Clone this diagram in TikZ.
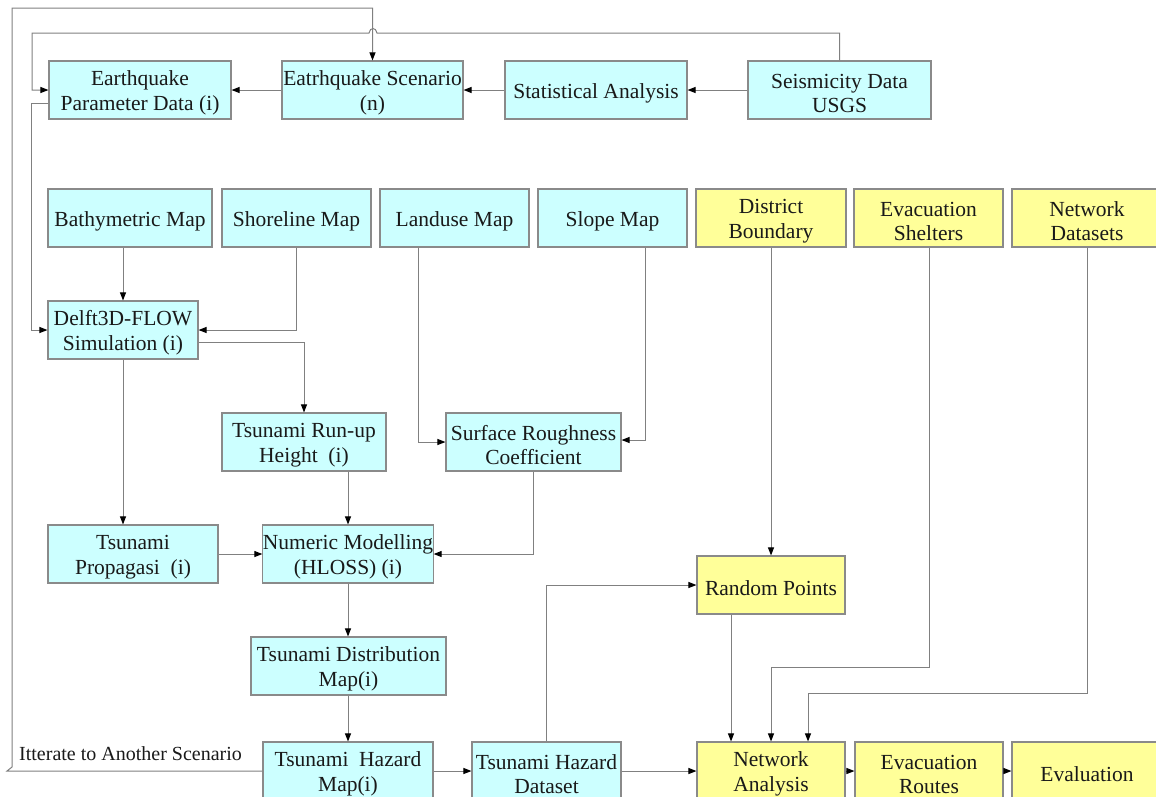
\documentclass[tikz,border=0pt]{standalone}
\usepackage{fontspec}
\setmainfont{Liberation Serif}
\usetikzlibrary{arrows.meta}
\definecolor{cyanfill}{HTML}{CCFFFF}
\definecolor{yelfill}{HTML}{FFFF99}
\definecolor{linegray}{HTML}{808080}
\definecolor{boxgray}{HTML}{8A8A8A}
\newcommand\tstrut{\rule{0pt}{21pt}}
\tikzset{
  box/.style={draw=boxgray, line width=1.1pt, fill=cyanfill, inner sep=0pt, align=center,
    minimum height=58pt, text=black!90, font=\fontsize{21.5}{24.5}\selectfont},
  ybox/.style={box, fill=yelfill},
  arr/.style={draw=linegray, line width=1pt, -{Triangle[length=8pt,width=6pt,color=black]}},
}
\begin{document}
\begin{tikzpicture}[x=1pt,y=-1pt]
\useasboundingbox (0,0) rectangle (1156,796);
% top row
\node[box, minimum width=182pt] (epd) at (140,90) {\tstrut Earthquake\\Parameter Data (i)};
\node[box, minimum width=181pt] (es) at (372.5,90) {\tstrut Eatrhquake Scenario\\(n)};
\node[box, minimum width=182pt] (sa) at (596,90) {\tstrut Statistical Analysis};
\node[box, minimum width=183pt] (sd) at (839.5,90) {\tstrut Seismicity Data\\USGS};
% second row
\node[box, minimum width=164pt] (bathy) at (130,218) {\tstrut Bathymetric Map};
\node[box, minimum width=149pt] (shore) at (296.5,218) {\tstrut Shoreline Map};
\node[box, minimum width=149pt] (landuse) at (454.5,218) {\tstrut Landuse Map};
\node[box, minimum width=149pt] (slope) at (612.5,218) {\tstrut Slope Map};
\node[ybox, minimum width=150pt] (district) at (771,218) {\tstrut District\\Boundary};
\node[ybox, minimum width=149pt] (shelters) at (928.5,218) {\tstrut Evacuation\\Shelters};
\node[ybox, minimum width=150pt] (netdata) at (1087,218) {\tstrut Network\\Datasets};
% middle
\node[box, minimum width=150pt] (delft) at (123,330) {\tstrut Delft3D-FLOW\\Simulation (i)};
\node[box, minimum width=164pt] (runup) at (304,442) {\tstrut Tsunami Run-up\\Height~ (i)};
\node[box, minimum width=175pt] (src) at (533.5,442) {\tstrut Surface Roughness\\Coefficient};
\node[box, minimum width=170pt] (prop) at (133,554) {\tstrut Tsunami\\Propagasi~ (i)};
\node[box, minimum width=170pt] (num) at (348,554) {\tstrut Numeric Modelling\\(HLOSS) (i)};
\node[box, minimum width=195pt] (dist) at (348.5,666) {\tstrut Tsunami Distribution\\Map(i)};
\node[ybox, minimum width=148pt] (rp) at (771,585) {\tstrut Random Points};
% bottom row
\node[box, minimum width=170pt] (hmap) at (348,771) {\tstrut Tsunami~ Hazard\\Map(i)};
\node[box, minimum width=149pt] (hds) at (546.5,771) {\tstrut Tsunami Hazard\\Dataset};
\node[ybox, minimum width=148pt] (na) at (771,771) {\tstrut Network\\Analysis};
\node[ybox, minimum width=148pt] (er) at (929,771) {\tstrut Evacuation\\Routes};
\node[ybox, minimum width=150pt] (ev) at (1087,771) {\tstrut Evaluation};
\node[anchor=base west, inner sep=0pt, text=black!90, font=\fontsize{20}{22}\selectfont] (iter) at (19,760) {Itterate to Another Scenario};
% coordinates
\coordinate (c1) at (771,667);
\coordinate (c2) at (808,693);
% top connectors
\draw[arr] (sd) -- (sa);
\draw[arr] (sa) -- (es);
\draw[arr] (es) -- (epd);
\draw[arr] (sd.north) -- (839.5,33) -- (377,33) .. controls (376,27) and (370,27) .. (369,33) -- (32,33) -- (32,90) -- (epd.west);
\draw[arr] (hmap.west) -- (7,771) -- (12,767) -- (12,8) -- (372.5,8) -- (es.north);
\draw[arr] ([yshift=-13pt]epd.west) -- ++(-17,0) |- (delft.west);
% Delft inputs
\draw[arr] (delft.north |- bathy.south) -- (delft.north);
\draw[arr] (shore.south) |- (delft.east);
\draw[arr] ([yshift=-12pt]delft.east) -| (runup.north);
\draw[arr] (delft.south) -- (delft.south |- prop.north);
% surface roughness
\draw[arr] ([xshift=-36.5pt]landuse.south) |- (src.west);
\draw[arr] ([xshift=32.5pt]slope.south) |- ([yshift=2pt]src.east);
% numeric modelling
\draw[arr] (runup.south -| num.north) -- (num.north);
\draw[arr] (src.south) |- (num.east);
\draw[arr] (prop) -- (num);
\draw[arr] (num.south) -- (num.south |- dist.north);
\draw[arr] (dist.south -| hmap.north) -- (hmap.north);
\draw[arr] (hmap) -- (hds);
% network analysis
\draw[arr] (hds.north) |- (rp.west);
\draw[arr] (hds) -- (na);
\draw[arr] (district.south) -- (rp.north);
\draw[arr] ([xshift=-40pt]rp.south) -- ([xshift=-40pt]na.north);
\draw[arr] ([xshift=0.5pt]shelters.south) |- (c1) -- (c1 |- na.north);
\draw[arr] (netdata.south) |- (c2) -- (c2 |- na.north);
\draw[arr] (na) -- (er);
\draw[arr] (er) -- (ev);
\end{tikzpicture}
\end{document}
